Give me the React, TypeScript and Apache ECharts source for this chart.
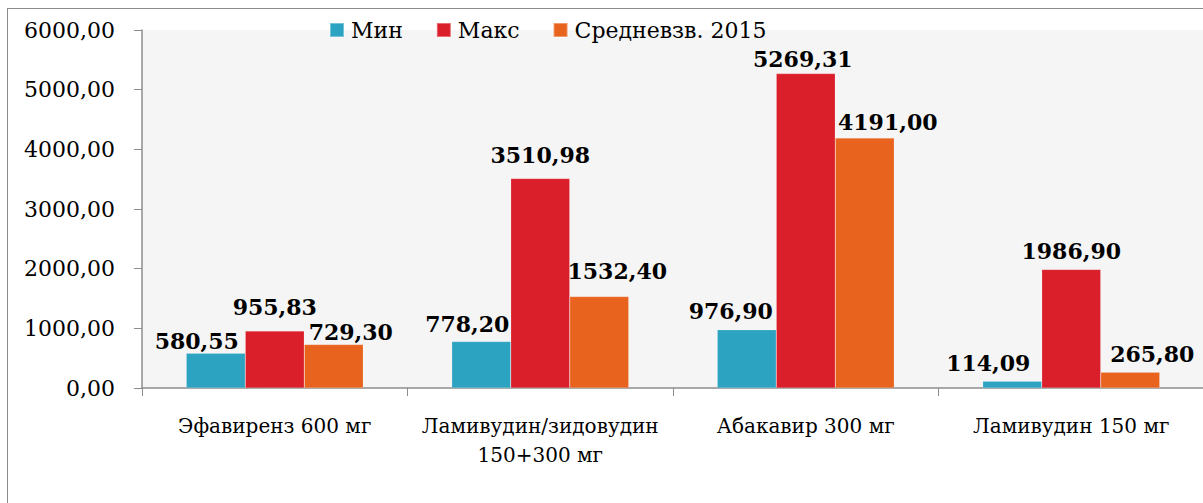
import React, { useEffect, useRef } from "react";
import * as echarts from "echarts";

const categories = [
  "Эфавиренз 600 мг",
  "Ламивудин/зидовудин\n150+300 мг",
  "Абакавир 300 мг",
  "Ламивудин 150 мг",
];
const seriesNames = ["Мин", "Макс", "Средневзв. 2015"];
const minValues = [580.55, 778.2, 976.9, 114.09];
const maxValues = [955.83, 3510.98, 5269.31, 1986.9];
const avgValues = [729.3, 1532.4, 4191.0, 265.8];
const yTicks = { min: 0, max: 6000, interval: 1000 };
const colors = ["#2CA3C1", "#DA1F2A", "#E8641E"];

// label placement tweaks (style only), per series, per category: [dx, dy]
const labelOffsets = [
  [[-19, 1], [-14, -5], [-16, -6], [-24, -5]],
  [[0, -11], [0, -11], [-3, -2], [0, -5]],
  [[17, 1], [18, -13], [23, -3], [22, -5]],
];

const fmt = (v: number) => v.toFixed(2).replace(".", ",");

export default function App() {
  const ref = useRef<HTMLDivElement>(null);
  useEffect(() => {
    if (!ref.current) return;
    const chart = echarts.init(ref.current, null, { renderer: "svg" });
    const font = "'DejaVu Serif', serif";
    const mk = (si: number, data: number[]) => ({
      name: seriesNames[si],
      type: "bar",
      data: data.map((v, i) => ({
        value: v,
        label: { offset: labelOffsets[si][i] },
      })),
      barWidth: 59,
      barGap: "0%",
      itemStyle: { color: colors[si], borderColor: "rgba(255,255,255,0.35)", borderWidth: 0.5 },
      label: {
        show: true,
        position: "top",
        distance: 2,
        formatter: (p: any) => fmt(p.value),
        fontFamily: font,
        fontWeight: "bold",
        fontSize: 22,
        color: "#000",
      },
    });
    chart.setOption({
      animation: false,
      backgroundColor: "#fff",
      textStyle: { fontFamily: font },
      legend: {
        left: 316,
        top: 4,
        itemWidth: 14,
        itemHeight: 14,
        itemGap: 33,
        icon: "rect",
        textStyle: { fontFamily: font, fontSize: 22, color: "#000", lineHeight: 24, padding: [0, 0, 0, 2] },
        data: seriesNames,
      },
      grid: {
        left: 134,
        top: 21,
        bottom: 116,
        right: -1.5,
        show: true,
        backgroundColor: "#f5f5f5",
        borderWidth: 0,
      },
      xAxis: {
        type: "category",
        data: categories,
        axisLine: { lineStyle: { color: "#8c8c8c", width: 1.5 } },
        axisTick: { show: true, length: 8, lineStyle: { color: "#8c8c8c" } },
        axisLabel: {
          fontFamily: font,
          fontSize: 20,
          color: "#000",
          margin: 23,
          lineHeight: 29,
          interval: 0,
        },
      },
      yAxis: {
        type: "value",
        min: yTicks.min,
        max: yTicks.max,
        interval: yTicks.interval,
        axisLine: { show: true, lineStyle: { color: "#8c8c8c", width: 1.5 } },
        axisTick: { show: true, length: 8, lineStyle: { color: "#8c8c8c" } },
        splitLine: { show: false },
        axisLabel: {
          fontFamily: font,
          fontSize: 22,
          color: "#000",
          margin: 27,
          formatter: (v: number) => fmt(v),
        },
      },
      series: [mk(0, minValues), mk(1, maxValues), mk(2, avgValues)],
    });
    return () => chart.dispose();
  }, []);
  return (
    <div
      style={{
        position: "fixed",
        left: 7,
        top: 8,
        borderLeft: "1.5px solid #8c8c8c",
        borderTop: "1.5px solid #8c8c8c",
        background: "#fff",
      }}
    >
      <div ref={ref} style={{ width: 1196, height: 495 }} />
    </div>
  );
}
